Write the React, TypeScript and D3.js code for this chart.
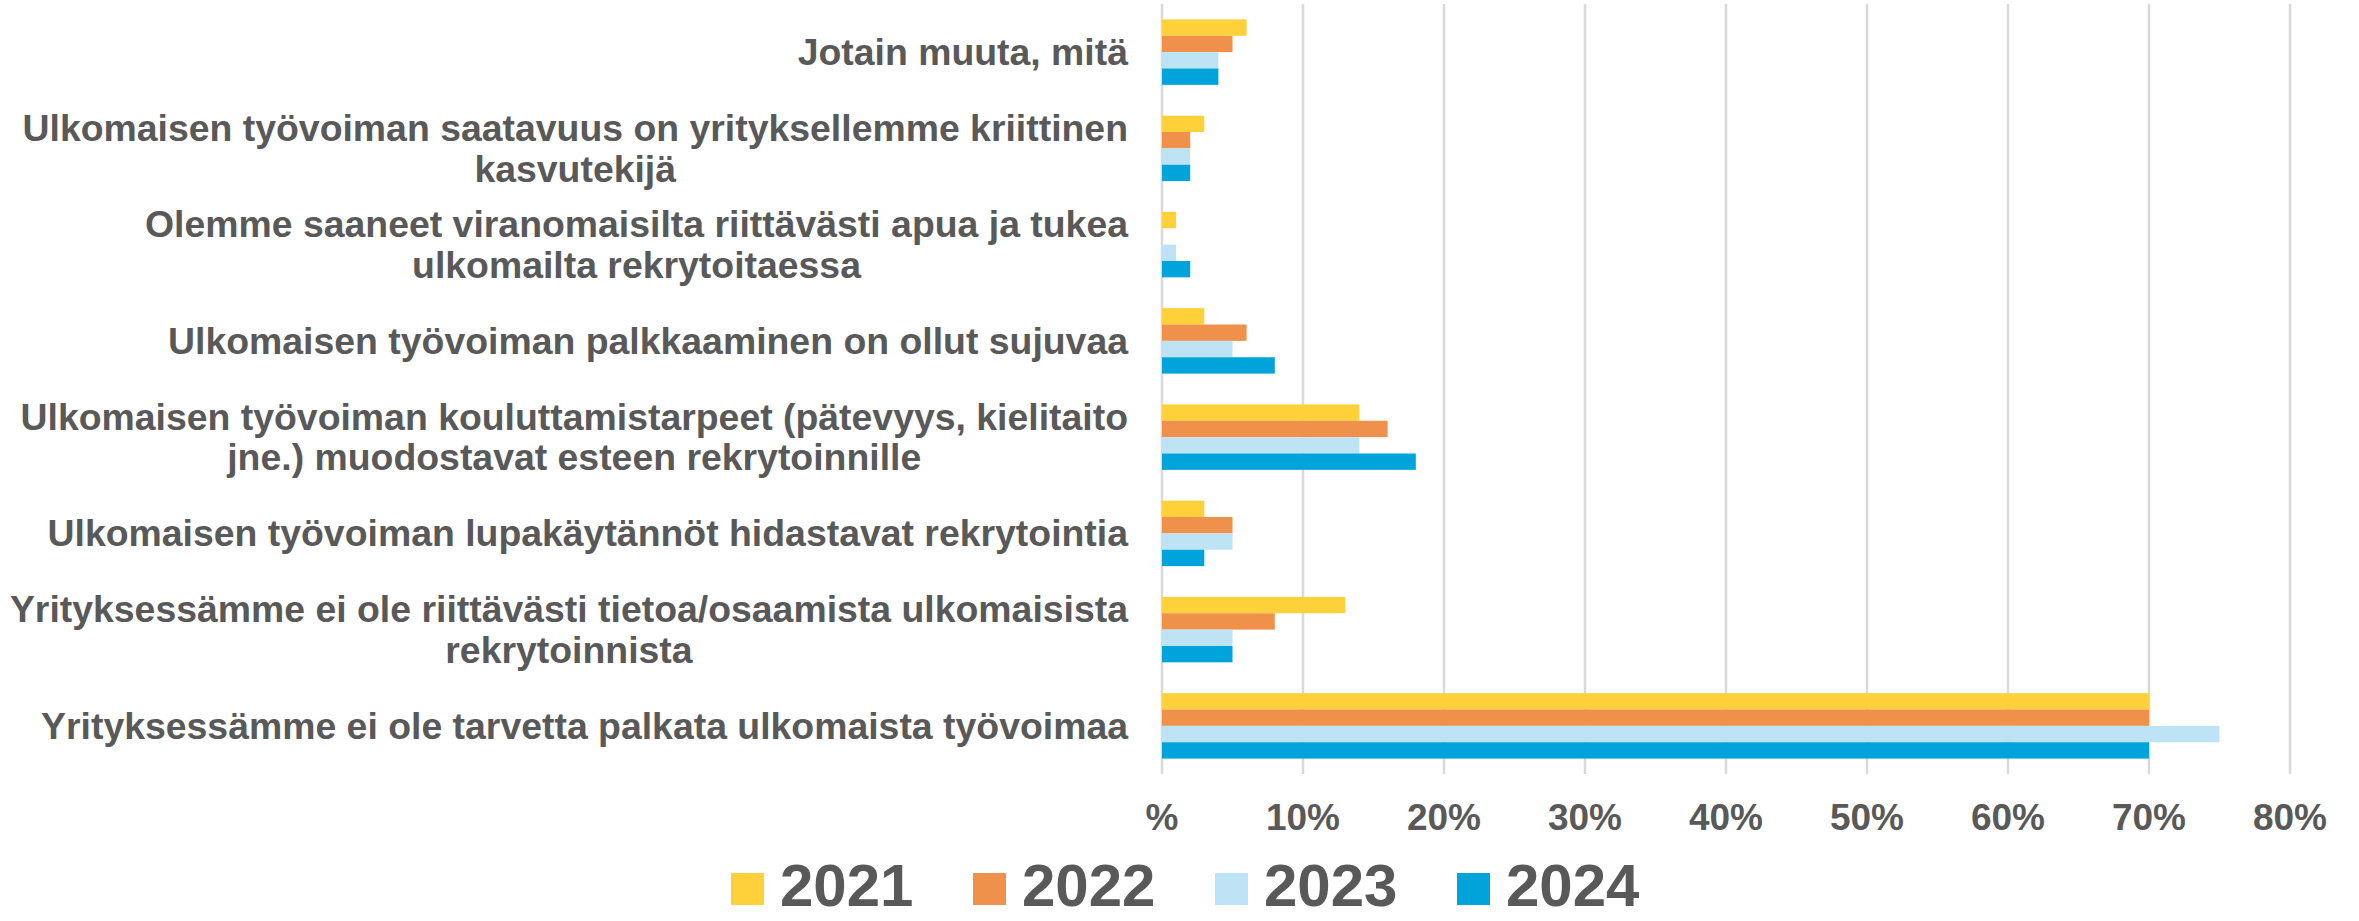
import React, { useRef, useEffect } from "react";
import * as d3 from "d3";

// Kategoriat ylhäältä alas, rivinvaihdot "\n"
const categories = [
  "Jotain muuta, mitä",
  "Ulkomaisen työvoiman saatavuus on yrityksellemme kriittinen\nkasvutekijä",
  "Olemme saaneet viranomaisilta riittävästi apua ja tukea\nulkomailta rekrytoitaessa",
  "Ulkomaisen työvoiman palkkaaminen on ollut sujuvaa",
  "Ulkomaisen työvoiman kouluttamistarpeet (pätevyys, kielitaito\njne.) muodostavat esteen rekrytoinnille",
  "Ulkomaisen työvoiman lupakäytännöt hidastavat rekrytointia",
  "Yrityksessämme ei ole riittävästi tietoa/osaamista ulkomaisista\nrekrytoinnista",
  "Yrityksessämme ei ole tarvetta palkata ulkomaista työvoimaa",
];

const years = ["2021", "2022", "2023", "2024"];
const colors = ["#FED13A", "#F0914B", "#BDE3F5", "#00A4DB"];

const values2021 = [6, 3, 1, 3, 14, 3, 13, 70];
const values2022 = [5, 2, 0, 6, 16, 5, 8, 70];
const values2023 = [4, 2, 1, 5, 14, 5, 5, 75];
const values2024 = [4, 2, 2, 8, 18, 3, 5, 70];

const xTicks = [0, 10, 20, 30, 40, 50, 60, 70, 80];

const series = [values2021, values2022, values2023, values2024];

export default function App() {
  const ref = useRef<SVGSVGElement>(null);
  const width = 2359;
  const height = 921;

  useEffect(() => {
    const container = ref.current;
    if (!container) return;
    d3.select(container).selectChildren().remove();

    const svg = d3
      .select(container)
      .append("g")
      .style("font-family", "'Liberation Sans', Arial, sans-serif")
      .style("font-weight", "bold");

    const textColor = "#595959";
    const left = 1162,
      right = 2290,
      top = 4,
      bottom = 774;

    const x = d3.scaleLinear().domain([0, 80]).range([left, right]);
    const y = d3
      .scaleBand()
      .domain(categories)
      .range([top, bottom])
      .paddingInner(0.32)
      .paddingOuter(0.16);
    const yInner = d3
      .scaleBand()
      .domain(years)
      .range([0, y.bandwidth()]);

    // Pystyviivat
    svg
      .append("g")
      .selectAll("line")
      .data(xTicks)
      .join("line")
      .attr("x1", (d) => x(d))
      .attr("x2", (d) => x(d))
      .attr("y1", top)
      .attr("y2", bottom)
      .attr("stroke", "#D9D9D9")
      .attr("stroke-width", 2.5);

    // X-akselin luvut
    svg
      .append("g")
      .selectAll("text")
      .data(xTicks)
      .join("text")
      .attr("x", (d) => x(d))
      .attr("y", 830)
      .attr("text-anchor", "middle")
      .attr("fill", textColor)
      .style("font-size", "37px")
      .text((d) => (d === 0 ? "%" : `${d}%`));

    // Palkit
    years.forEach((yr, i) => {
      svg
        .append("g")
        .selectAll("rect")
        .data(series[i])
        .join("rect")
        .attr("x", x(0))
        .attr("y", (_d, j) => (y(categories[j]) as number) + (yInner(yr) as number))
        .attr("width", (d) => x(d) - x(0))
        .attr("height", yInner.bandwidth())
        .attr("fill", colors[i]);
    });

    // Kategoriarivit
    const lineH = 40.5;
    const labelRight = 1128;
    categories.forEach((c) => {
      const lines = c.split("\n");
      const cy = (y(c) as number) + y.bandwidth() / 2;
      const g = svg.append("g");
      const texts = lines.map((ln, k) =>
        g
          .append("text")
          .attr("y", cy + (k - (lines.length - 1) / 2) * lineH)
          .attr("dy", "0.35em")
          .attr("fill", textColor)
          .style("font-size", "37.4px")
          .text(ln)
      );
      const widths = texts.map((t) => (t.node() as SVGTextElement).getComputedTextLength());
      const maxW = d3.max(widths) as number;
      texts.forEach((t) =>
        t.attr("x", labelRight - maxW / 2).attr("text-anchor", "middle")
      );
    });

    // Selite
    const legend = svg.append("g");
    const step = 242;
    const lx = 731;
    years.forEach((yr, i) => {
      legend
        .append("rect")
        .attr("x", lx + i * step)
        .attr("y", 873)
        .attr("width", 33)
        .attr("height", 32)
        .attr("fill", colors[i]);
      legend
        .append("text")
        .attr("x", lx + i * step + 49)
        .attr("y", 906)
        .attr("fill", textColor)
        .style("font-size", "60px")
        .text(yr);
    });
  }, []);

  return (
    <svg
      ref={ref}
      width={width}
      height={height}
      style={{ position: "absolute", left: 0, top: 0, background: "#fff" }}
    />
  );
}
